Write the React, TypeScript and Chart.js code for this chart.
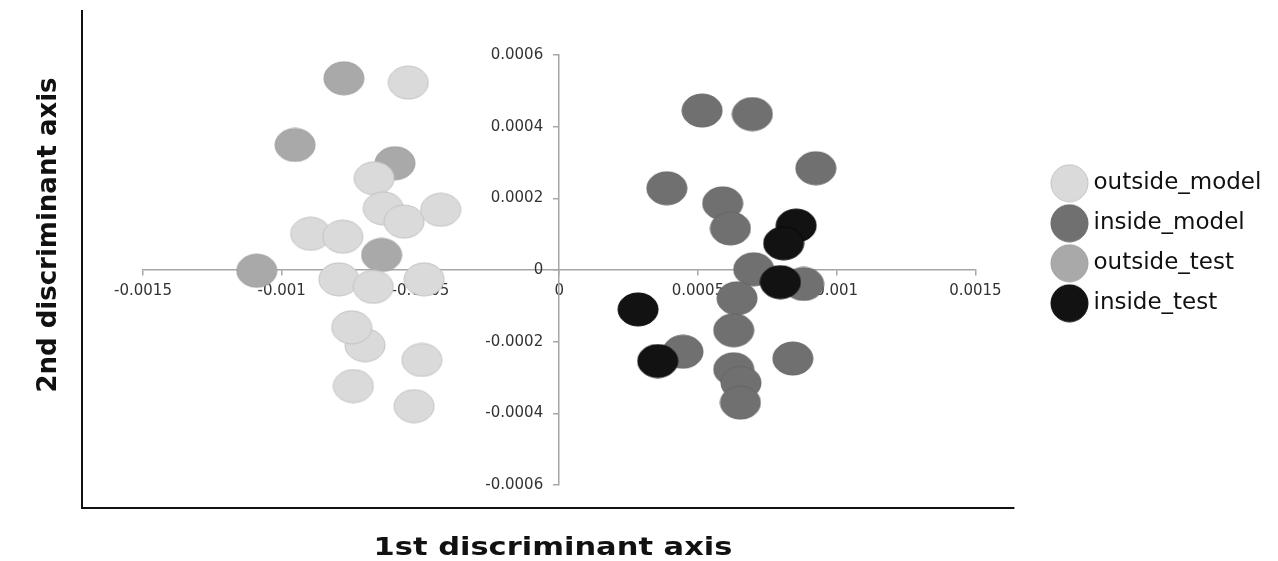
import React, { useEffect, useRef } from 'react';
import { Chart, registerables } from 'chart.js';

Chart.register(...registerables);

// ---- data ----
const seriesNames = ['outside_model', 'inside_model', 'outside_test', 'inside_test'];

const outsideModelX = [-0.000544, -0.000667, -0.000634, -0.000559, -0.000427, -0.000896, -0.00078, -0.000794, -0.00067, -0.000487, -0.0007, -0.000748, -0.000495, -0.000742, -0.000523];
const outsideModelY = [0.000523, 0.000256, 0.000172, 0.000135, 0.000168, 0.000101, 0.000093, -0.000026, -0.000047, -0.000026, -0.00021, -0.00016, -0.000251, -0.000324, -0.00038];

const insideModelX = [0.000515, 0.000696, 0.000925, 0.000388, 0.000589, 0.000617, 0.000701, 0.000881, 0.000641, 0.000629, 0.000446, 0.000842, 0.000629, 0.000655, 0.000653];
const insideModelY = [0.000445, 0.000435, 0.000284, 0.000228, 0.000186, 0.000116, 0.000002, -0.000039, -0.000079, -0.000168, -0.000228, -0.000247, -0.000277, -0.000315, -0.00037];

const outsideTestX = [-0.000776, -0.000952, -0.000592, -0.00064, -0.00109];
const outsideTestY = [0.000535, 0.000349, 0.000298, 0.000042, -0.000002];

const insideTestX = [0.000854, 0.000809, 0.000797, 0.000284, 0.000355];
const insideTestY = [0.000124, 0.0000745, -0.000034, -0.00011, -0.000254];

const xTickValues = [-0.0015, -0.001, -0.0005, 0, 0.0005, 0.001, 0.0015];
const xTickLabels = ['-0.0015', '-0.001', '-0.0005', '0', '0.0005', '0.001', '0.0015'];
const yTickValues = [-0.0006, -0.0004, -0.0002, 0, 0.0002, 0.0004, 0.0006];
const yTickLabels = ['-0.0006', '-0.0004', '-0.0002', '0', '0.0002', '0.0004', '0.0006'];

const xAxisTitle = '1st discriminant axis';
const yAxisTitle = '2nd discriminant axis';

// ---- styles ----
const fills = ['#dadada', '#707070', '#a9a9a9', '#121212'];
const strokes = ['#c2c2c2', '#666666', '#9e9e9e', '#0a0a0a'];
const drawOrder = [2, 1, 3, 0];
const yLabelGap = 16;

function makeDot(w: number, h: number, fill: string, stroke: string) {
  const c = document.createElement('canvas');
  c.width = w + 2;
  c.height = h + 2;
  const g = c.getContext('2d')!;
  g.beginPath();
  g.ellipse((w + 2) / 2, (h + 2) / 2, w / 2, h / 2, 0, 0, Math.PI * 2);
  g.fillStyle = fill;
  g.fill();
  g.lineWidth = 1;
  g.strokeStyle = stroke;
  g.stroke();
  return c;
}

function pts(xs: number[], ys: number[]) {
  return xs.map((x, i) => ({ x, y: ys[i] }));
}

function labelFor(values: number[], labels: string[], v: number) {
  const i = values.findIndex((t) => Math.abs(t - v) < 1e-9);
  return i >= 0 ? labels[i] : '';
}

// shifts the centred y-axis labels to the left of the axis line
const yLabelShiftPlugin = {
  id: 'yLabelShift',
  beforeDraw(chart: any) {
    const s = chart.scales.y;
    if (!s || !s.getLabelItems) return;
    const items = s.getLabelItems(chart.chartArea);
    if (items && !items.__shifted) {
      items.forEach((it: any) => {
        it.options.translation = [it.options.translation[0] - yLabelGap, it.options.translation[1]];
      });
      items.__shifted = true;
    }
  },
};

const framePlugin = {
  id: 'frameAndTitles',
  afterDraw(chart: any) {
    const { ctx, chartArea: a } = chart;
    ctx.save();
    ctx.strokeStyle = '#111';
    ctx.lineWidth = 2;
    ctx.beginPath();
    ctx.moveTo(a.left - 61, a.top - 45);
    ctx.lineTo(a.left - 61, a.bottom + 23);
    ctx.lineTo(a.right + 39, a.bottom + 23);
    ctx.stroke();
    ctx.restore();

    ctx.save();
    ctx.fillStyle = '#111';
    ctx.font = 'bold 26px "DejaVu Sans"';
    ctx.textAlign = 'center';
    ctx.textBaseline = 'alphabetic';
    ctx.translate(a.left - 87.5, a.top + 180);
    ctx.rotate(-Math.PI / 2);
    ctx.fillText(yAxisTitle, 0, 0);
    ctx.restore();

    ctx.save();
    ctx.fillStyle = '#111';
    ctx.font = 'bold 25px "DejaVu Sans"';
    ctx.textAlign = 'center';
    ctx.textBaseline = 'alphabetic';
    ctx.translate(a.left + 410, a.bottom + 70);
    ctx.scale(1.22, 1);
    ctx.fillText(xAxisTitle, 0, 0);
    ctx.restore();
  },
};

export default function App() {
  const ref = useRef<HTMLCanvasElement | null>(null);
  useEffect(() => {
    document.body.style.margin = '0';
    if (!ref.current) return;
    const dots = fills.map((f, i) => makeDot(40, 33, f, strokes[i]));
    const legendDots = fills.map((f, i) => makeDot(37, 37, f, strokes[i]));
    const series = [
      pts(outsideModelX, outsideModelY),
      pts(insideModelX, insideModelY),
      pts(outsideTestX, outsideTestY),
      pts(insideTestX, insideTestY),
    ];
    const tickFont = { family: 'DejaVu Sans', size: 15 };
    const axisGrid = { display: true, drawOnChartArea: false, drawTicks: true, tickLength: 5, color: '#a6a6a6', lineWidth: 1.5 };
    const axisBorder = { display: true, color: '#a6a6a6', width: 1.5 };
    const chart = new Chart(ref.current, {
      type: 'scatter',
      data: {
        datasets: seriesNames.map((name, i) => ({
          label: name,
          data: series[i],
          pointStyle: dots[i] as any,
          pointRadius: 20,
          pointHoverRadius: 20,
          backgroundColor: fills[i],
          borderColor: strokes[i],
          order: drawOrder[i],
        })),
      },
      options: {
        animation: false,
        responsive: false,
        devicePixelRatio: 1,
        events: [],
        layout: { padding: { left: 143, top: 55, bottom: 76, right: 17 } },
        scales: {
          x: {
            type: 'linear',
            position: { y: 0 } as any,
            min: -0.0015,
            max: 0.0015,
            afterBuildTicks: (s: any) => {
              s.ticks = xTickValues.map((v) => ({ value: v }));
            },
            ticks: {
              callback: (v: any) => labelFor(xTickValues, xTickLabels, Number(v)),
              font: tickFont,
              color: '#333',
              padding: 7,
              maxRotation: 0,
              autoSkip: false,
            },
            grid: axisGrid,
            border: axisBorder,
          },
          y: {
            type: 'linear',
            position: { x: 0 } as any,
            min: -0.0006,
            max: 0.0006,
            afterBuildTicks: (s: any) => {
              s.ticks = yTickValues.map((v) => ({ value: v }));
            },
            ticks: {
              callback: (v: any) => labelFor(yTickValues, yTickLabels, Number(v)),
              font: tickFont,
              color: '#333',
              padding: 11,
              autoSkip: false,
            },
            grid: axisGrid,
            border: axisBorder,
          },
          spacer: {
            type: 'linear',
            position: 'right',
            display: true,
            ticks: { display: false },
            grid: { display: false },
            border: { display: false },
            afterFit: (s: any) => {
              s.width = 64.6;
            },
          },
        },
        plugins: {
          tooltip: { enabled: false },
          legend: {
            display: true,
            position: 'right',
            align: 'start',
            maxWidth: 221,
            title: { display: true, text: '', padding: { top: 85.4, bottom: 0 }, font: { size: 12 } },
            labels: {
              usePointStyle: true,
              pointStyleWidth: 25,
              padding: 17,
              color: '#111',
              font: { family: 'DejaVu Sans', size: 23 },
              sort: (a: any, b: any) => a.datasetIndex - b.datasetIndex,
              generateLabels: (c: any) => {
                const items = (Chart.defaults.plugins.legend.labels as any).generateLabels(c);
                return items.map((it: any) => ({ ...it, pointStyle: legendDots[it.datasetIndex] }));
              },
            },
          },
        },
      },
      plugins: [yLabelShiftPlugin, framePlugin],
    });
    return () => chart.destroy();
  }, []);
  return (
    <div style={{ width: 1278, height: 561 }}>
      <canvas ref={ref} width={1278} height={561} style={{ display: 'block' }} />
    </div>
  );
}
